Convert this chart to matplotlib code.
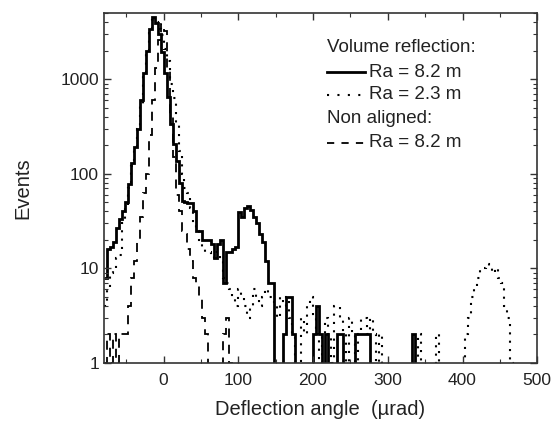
import numpy as np
import matplotlib
matplotlib.use('Agg')
import matplotlib.pyplot as plt
from matplotlib.lines import Line2D
from matplotlib.ticker import LogLocator, NullFormatter, FixedLocator

plt.rcParams['font.family'] = ['Liberation Sans', 'DejaVu Sans']

# histogram bins: 4 urad wide, left edges from -80 urad
binStart = -80
binWidth = 4
nBins = 145

# volume reflection, Ra = 8.2 m  (bins from -80 to 148)
vr82_main = [8, 16, 17, 19, 27, 33, 40, 50, 78, 130,
             190, 300, 600, 1150, 2000, 3400, 4600, 3900, 3000, 1950,
             1150, 650, 340, 205, 137, 80, 52, 50, 49, 49,
             40, 25, 25, 20, 20, 20, 18, 13, 18, 20,
             7, 15, 15, 16, 17, 39, 35, 44, 46, 41,
             35, 30, 23, 19, 12, 7, 7, 0]
vr82_tail_edges = [160, 164, 168, 172, 200, 204, 208, 216, 220, 232, 236, 256, 260, 264, 268, 272, 332]
vr82_tail_counts = [2, 5, 5, 2, 2, 4, 2, 2, 1, 2, 2, 2, 2, 2, 2, 2, 2]

# volume reflection, Ra = 2.3 m
vr23_main = [4, 6, 9, 10, 13, 14, 30, 45, 70, 120,
             190, 300, 550, 1100, 1900, 3100, 4200, 4000, 3400, 2900,
             2100, 1550, 900, 630, 345, 175, 100, 71, 63, 44,
             30, 25, 20, 17, 15, 15, 13, 15, 15, 12,
             8, 7, 6, 5, 4, 6, 5, 4, 3, 4,
             6, 5, 4, 5, 6, 5, 5, 4]
vr23_tail_edges = [152, 156, 160, 164, 168, 172, 176, 180, 184, 188, 192, 196, 200, 204, 208,
                   212, 216, 220, 224, 228, 232, 236, 240, 244, 248, 252, 256, 260, 264, 268,
                   272, 276, 280, 284, 288, 292, 296, 340, 344, 364, 368,
                   404, 408, 412, 416, 420, 424, 428, 432, 436, 440, 444, 448, 452, 456, 460, 464]
vr23_tail_counts = [3, 5, 4, 5, 3, 2, 1, 1, 3, 2, 4, 5, 3, 2, 1,
                    2, 3, 2, 1, 4, 4, 3, 2, 1, 3, 2, 1, 2, 3, 3,
                    2, 3, 2, 1, 2, 1, 1, 2, 1, 2, 1,
                    2, 3, 5, 6, 8, 10, 10, 11, 10, 9, 10, 8, 7, 4, 3, 1]

# non aligned, Ra = 8.2 m
na82_main = [1, 2, 1, 2, 1, 2, 2, 2, 4, 8,
             12, 20, 35, 62, 100, 260, 600, 1300, 2600, 3800,
             3200, 1300, 400, 150, 60, 40, 25, 23, 16, 12,
             8, 7, 5, 3, 2, 0, 0, 0, 0, 0,
             2, 3, 1, 0]
na82_tail_edges = []
na82_tail_counts = []


def fullCounts(main, tailEdges, tailCounts):
    c = np.zeros(nBins)
    c[:len(main)] = main
    for e, v in zip(tailEdges, tailCounts):
        c[(e - binStart) // binWidth] = v
    c[c <= 0] = 0.3  # below the axis, gets clipped on log scale
    return c


edges = binStart + binWidth * np.arange(nBins + 1)

fig = plt.figure(figsize=(5.55, 4.23), dpi=100)
ax = fig.add_axes([0.187, 0.142, 0.781, 0.827])

ax.stairs(fullCounts(na82_main, na82_tail_edges, na82_tail_counts), edges, baseline=None,
          color='black', lw=1.3, ls=(0, (5, 4)))
ax.stairs(fullCounts(vr23_main, vr23_tail_edges, vr23_tail_counts), edges, baseline=None,
          color='black', lw=1.5, ls=(0, (1, 3)))
ax.stairs(fullCounts(vr82_main, vr82_tail_edges, vr82_tail_counts), edges, baseline=None,
          color='black', lw=2.0)

ax.set_yscale('log')
ax.set_xlim(-80, 500)
ax.set_ylim(1, 5000)

ax.xaxis.set_major_locator(FixedLocator([0, 100, 200, 300, 400, 500]))
ax.xaxis.set_minor_locator(FixedLocator([-50, 50, 150, 250, 350, 450]))
ax.yaxis.set_major_locator(FixedLocator([1, 10, 100, 1000]))
ax.set_yticklabels(['1', '10', '100', '1000'])
ax.yaxis.set_minor_locator(LogLocator(base=10, subs=np.arange(2, 10)))
ax.yaxis.set_minor_formatter(NullFormatter())

ax.tick_params(which='both', direction='in', top=True, right=True, labelsize=12.5,
               color='#333333', labelcolor='#222222')
ax.tick_params(which='major', length=5, width=1)
ax.tick_params(which='minor', length=3, width=0.8)
ax.tick_params(axis='x', pad=7)
for s in ax.spines.values():
    s.set_linewidth(1.2)
    s.set_color('#333333')

ax.set_xlabel('Deflection angle  (\u00b5rad)', fontsize=14.5, labelpad=9, color='#222222')
ax.set_ylabel('Events', fontsize=14.5, labelpad=20, color='#222222')

# legend, laid out by hand
tx = ax.transAxes
fs = 13.5
ax.text(0.515, 0.903, 'Volume reflection:', transform=tx, fontsize=fs, va='center', color='#222222')
ax.add_line(Line2D([0.515, 0.603], [0.831, 0.831], transform=tx, color='black', lw=2.0))
ax.text(0.612, 0.831, 'Ra = 8.2 m', transform=tx, fontsize=fs, va='center', color='#222222')
ax.add_line(Line2D([0.515, 0.603], [0.766, 0.766], transform=tx, color='black', lw=1.5, ls=(0, (1, 4))))
ax.text(0.612, 0.766, 'Ra = 2.3 m', transform=tx, fontsize=fs, va='center', color='#222222')
ax.text(0.515, 0.700, 'Non aligned:', transform=tx, fontsize=fs, va='center', color='#222222')
ax.add_line(Line2D([0.515, 0.603], [0.629, 0.629], transform=tx, color='black', lw=1.3, ls=(0, (4, 4))))
ax.text(0.612, 0.629, 'Ra = 8.2 m', transform=tx, fontsize=fs, va='center', color='#222222')

plt.savefig('out.png', dpi=100)
